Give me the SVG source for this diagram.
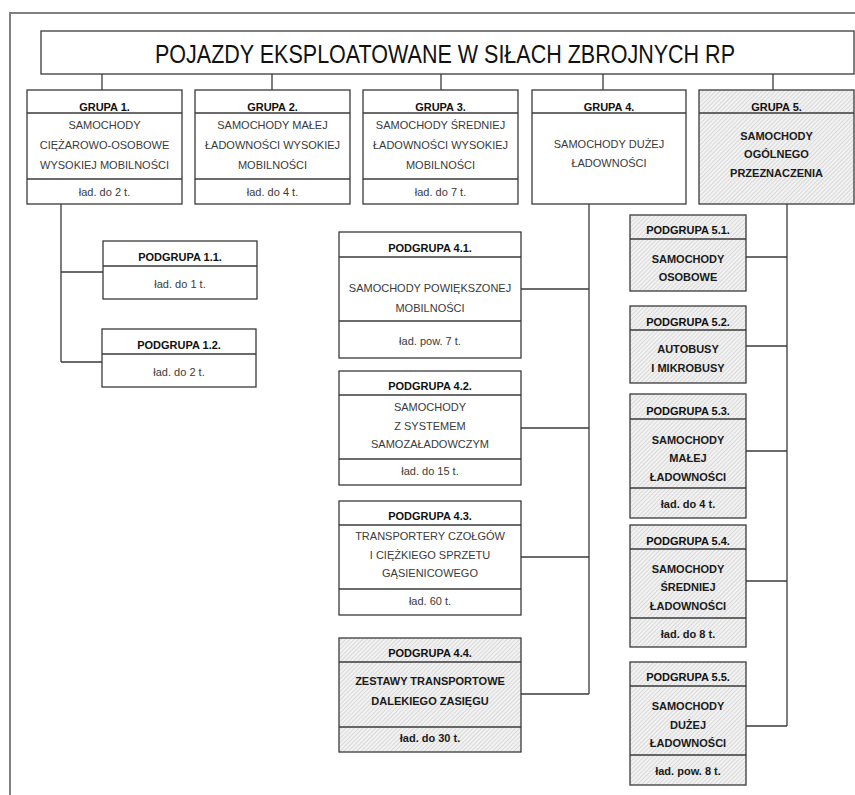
<svg xmlns="http://www.w3.org/2000/svg" width="855" height="795" viewBox="0 0 855 795">
<defs>
<pattern id="hatch" width="3" height="3" patternUnits="userSpaceOnUse" patternTransform="rotate(45)">
<rect width="3" height="3" fill="#f2f2f2"/>
<line x1="0" y1="0" x2="0" y2="3" stroke="#b4b4b4" stroke-width="0.8"/>
</pattern>
<style>
.box{fill:#fff;stroke:#3a3a3a;stroke-width:1.3}
.hbox{fill:url(#hatch);stroke:#3a3a3a;stroke-width:1.3}
.dv{stroke:#3a3a3a;stroke-width:1.3}
.h{font-family:"Liberation Sans",Arial,sans-serif;font-weight:bold;font-size:11px;text-anchor:middle;fill:#111}
.t{font-family:"Liberation Sans",Arial,sans-serif;font-size:11px;text-anchor:middle;fill:#3a3a3a}
.tb{font-family:"Liberation Sans",Arial,sans-serif;font-weight:bold;font-size:11px;text-anchor:middle;fill:#1a1a1a}
.title{font-family:"Liberation Sans",Arial,sans-serif;font-size:26px;text-anchor:middle;fill:#111}
.conn line{stroke:#3a3a3a;stroke-width:1.3}
.frame{stroke:#808080;stroke-width:2;fill:none}
</style>
</defs>
<rect width="855" height="795" fill="#fff"/>
<path class="frame" d="M10,795 V13 H855"/>

<g id="connectors" class="conn">
<line x1="102" y1="74" x2="102" y2="90"/>
<line x1="272" y1="74" x2="272" y2="90"/>
<line x1="441" y1="74" x2="441" y2="90"/>
<line x1="603" y1="74" x2="603" y2="90"/>
<line x1="773" y1="74" x2="773" y2="90"/>
<line x1="61" y1="204" x2="61" y2="362"/>
<line x1="61" y1="272" x2="103" y2="272"/>
<line x1="61" y1="362" x2="102" y2="362"/>
<line x1="589" y1="204" x2="589" y2="694"/>
<line x1="521" y1="289" x2="589" y2="289"/>
<line x1="521" y1="428" x2="589" y2="428"/>
<line x1="521" y1="557" x2="589" y2="557"/>
<line x1="521" y1="694" x2="589" y2="694"/>
<line x1="787" y1="204" x2="787" y2="726"/>
<line x1="746" y1="257" x2="787" y2="257"/>
<line x1="746" y1="346" x2="787" y2="346"/>
<line x1="746" y1="451" x2="787" y2="451"/>
<line x1="746" y1="581" x2="787" y2="581"/>
<line x1="746" y1="726" x2="787" y2="726"/>
</g>

<g id="title">
<rect class="box" x="41" y="31" width="813" height="43"/>
<text class="title" x="445" y="63" textLength="580" lengthAdjust="spacingAndGlyphs">POJAZDY EKSPLOATOWANE W SIŁACH ZBROJNYCH RP</text>
</g>

<g id="grupa1">
<rect class="box" x="27" y="90" width="155" height="114"/>
<line class="dv" x1="27" y1="113" x2="182" y2="113"/>
<line class="dv" x1="27" y1="179" x2="182" y2="179"/>
<text class="h" x="104.5" y="111">GRUPA 1.</text>
<text class="t" x="104.5" y="129">SAMOCHODY</text>
<text class="t" x="104.5" y="149">CIĘŻAROWO-OSOBOWE</text>
<text class="t" x="104.5" y="169">WYSOKIEJ MOBILNOŚCI</text>
<text class="t" x="104.5" y="196">ład. do 2 t.</text>
</g>

<g id="grupa2">
<rect class="box" x="195" y="90" width="155" height="114"/>
<line class="dv" x1="195" y1="113" x2="350" y2="113"/>
<line class="dv" x1="195" y1="179" x2="350" y2="179"/>
<text class="h" x="272.5" y="111">GRUPA 2.</text>
<text class="t" x="272.5" y="129">SAMOCHODY MAŁEJ</text>
<text class="t" x="272.5" y="149">ŁADOWNOŚCI WYSOKIEJ</text>
<text class="t" x="272.5" y="169">MOBILNOŚCI</text>
<text class="t" x="272.5" y="196">ład. do 4 t.</text>
</g>

<g id="grupa3">
<rect class="box" x="363" y="90" width="155" height="114"/>
<line class="dv" x1="363" y1="113" x2="518" y2="113"/>
<line class="dv" x1="363" y1="179" x2="518" y2="179"/>
<text class="h" x="440.5" y="111">GRUPA 3.</text>
<text class="t" x="440.5" y="129">SAMOCHODY ŚREDNIEJ</text>
<text class="t" x="440.5" y="149">ŁADOWNOŚCI WYSOKIEJ</text>
<text class="t" x="440.5" y="169">MOBILNOŚCI</text>
<text class="t" x="440.5" y="196">ład. do 7 t.</text>
</g>

<g id="grupa4">
<rect class="box" x="532" y="90" width="154" height="114"/>
<line class="dv" x1="532" y1="113" x2="686" y2="113"/>
<text class="h" x="609" y="111">GRUPA 4.</text>
<text class="t" x="609" y="148">SAMOCHODY DUŻEJ</text>
<text class="t" x="609" y="167">ŁADOWNOŚCI</text>
</g>

<g id="grupa5">
<rect class="hbox" x="699" y="90" width="155" height="114"/>
<line class="dv" x1="699" y1="113" x2="854" y2="113"/>
<text class="h" x="776.5" y="111">GRUPA 5.</text>
<text class="tb" x="776.5" y="140">SAMOCHODY</text>
<text class="tb" x="776.5" y="158">OGÓLNEGO</text>
<text class="tb" x="776.5" y="177">PRZEZNACZENIA</text>
</g>

<g id="podgrupa1-1">
<rect class="box" x="103" y="241" width="154" height="58"/>
<line class="dv" x1="103" y1="266" x2="257" y2="266"/>
<text class="h" x="180" y="261">PODGRUPA 1.1.</text>
<text class="t" x="180" y="288">ład. do 1 t.</text>
</g>

<g id="podgrupa1-2">
<rect class="box" x="102" y="329" width="154" height="58"/>
<line class="dv" x1="102" y1="354" x2="256" y2="354"/>
<text class="h" x="179" y="349">PODGRUPA 1.2.</text>
<text class="t" x="179" y="376">ład. do 2 t.</text>
</g>

<g id="podgrupa4-1">
<rect class="box" x="339" y="232" width="182" height="126"/>
<line class="dv" x1="339" y1="257" x2="521" y2="257"/>
<line class="dv" x1="339" y1="321" x2="521" y2="321"/>
<text class="h" x="430" y="252">PODGRUPA 4.1.</text>
<text class="t" x="430" y="292">SAMOCHODY POWIĘKSZONEJ</text>
<text class="t" x="430" y="312">MOBILNOŚCI</text>
<text class="t" x="430" y="345">ład. pow. 7 t.</text>
</g>

<g id="podgrupa4-2">
<rect class="box" x="339" y="371" width="182" height="114"/>
<line class="dv" x1="339" y1="395" x2="521" y2="395"/>
<line class="dv" x1="339" y1="459" x2="521" y2="459"/>
<text class="h" x="430" y="390">PODGRUPA 4.2.</text>
<text class="t" x="430" y="411">SAMOCHODY</text>
<text class="t" x="430" y="430">Z SYSTEMEM</text>
<text class="t" x="430" y="448">SAMOZAŁADOWCZYM</text>
<text class="t" x="430" y="475">ład. do 15 t.</text>
</g>

<g id="podgrupa4-3">
<rect class="box" x="339" y="501" width="182" height="114"/>
<line class="dv" x1="339" y1="525" x2="521" y2="525"/>
<line class="dv" x1="339" y1="589" x2="521" y2="589"/>
<text class="h" x="430" y="520">PODGRUPA 4.3.</text>
<text class="t" x="430" y="540">TRANSPORTERY CZOŁGÓW</text>
<text class="t" x="430" y="559">I CIĘŻKIEGO SPRZETU</text>
<text class="t" x="430" y="577">GĄSIENICOWEGO</text>
<text class="t" x="430" y="605">ład. 60 t.</text>
</g>

<g id="podgrupa4-4">
<rect class="hbox" x="339" y="638" width="182" height="114"/>
<line class="dv" x1="339" y1="662" x2="521" y2="662"/>
<line class="dv" x1="339" y1="727" x2="521" y2="727"/>
<text class="h" x="430" y="657">PODGRUPA 4.4.</text>
<text class="tb" x="430" y="685">ZESTAWY TRANSPORTOWE</text>
<text class="tb" x="430" y="705">DALEKIEGO ZASIĘGU</text>
<text class="tb" x="430" y="742">ład. do 30 t.</text>
</g>

<g id="podgrupa5-1">
<rect class="hbox" x="630" y="215" width="116" height="76"/>
<line class="dv" x1="630" y1="239" x2="746" y2="239"/>
<text class="h" x="688" y="234">PODGRUPA 5.1.</text>
<text class="tb" x="688" y="263">SAMOCHODY</text>
<text class="tb" x="688" y="281">OSOBOWE</text>
</g>

<g id="podgrupa5-2">
<rect class="hbox" x="630" y="306" width="116" height="77"/>
<line class="dv" x1="630" y1="330" x2="746" y2="330"/>
<text class="h" x="688" y="326">PODGRUPA 5.2.</text>
<text class="tb" x="688" y="353">AUTOBUSY</text>
<text class="tb" x="688" y="372">I MIKROBUSY</text>
</g>

<g id="podgrupa5-3">
<rect class="hbox" x="630" y="394" width="116" height="124"/>
<line class="dv" x1="630" y1="419" x2="746" y2="419"/>
<line class="dv" x1="630" y1="488" x2="746" y2="488"/>
<text class="h" x="688" y="415">PODGRUPA 5.3.</text>
<text class="tb" x="688" y="444">SAMOCHODY</text>
<text class="tb" x="688" y="462">MAŁEJ</text>
<text class="tb" x="688" y="481">ŁADOWNOŚCI</text>
<text class="tb" x="688" y="508">ład. do 4 t.</text>
</g>

<g id="podgrupa5-4">
<rect class="hbox" x="630" y="525" width="116" height="122"/>
<line class="dv" x1="630" y1="549" x2="746" y2="549"/>
<line class="dv" x1="630" y1="618" x2="746" y2="618"/>
<text class="h" x="688" y="545">PODGRUPA 5.4.</text>
<text class="tb" x="688" y="573">SAMOCHODY</text>
<text class="tb" x="688" y="591">ŚREDNIEJ</text>
<text class="tb" x="688" y="610">ŁADOWNOŚCI</text>
<text class="tb" x="688" y="638">ład. do 8 t.</text>
</g>

<g id="podgrupa5-5">
<rect class="hbox" x="630" y="662" width="116" height="123"/>
<line class="dv" x1="630" y1="686" x2="746" y2="686"/>
<line class="dv" x1="630" y1="755" x2="746" y2="755"/>
<text class="h" x="688" y="681">PODGRUPA 5.5.</text>
<text class="tb" x="688" y="710">SAMOCHODY</text>
<text class="tb" x="688" y="729">DUŻEJ</text>
<text class="tb" x="688" y="747">ŁADOWNOŚCI</text>
<text class="tb" x="688" y="775">ład. pow. 8 t.</text>
</g>
</svg>
